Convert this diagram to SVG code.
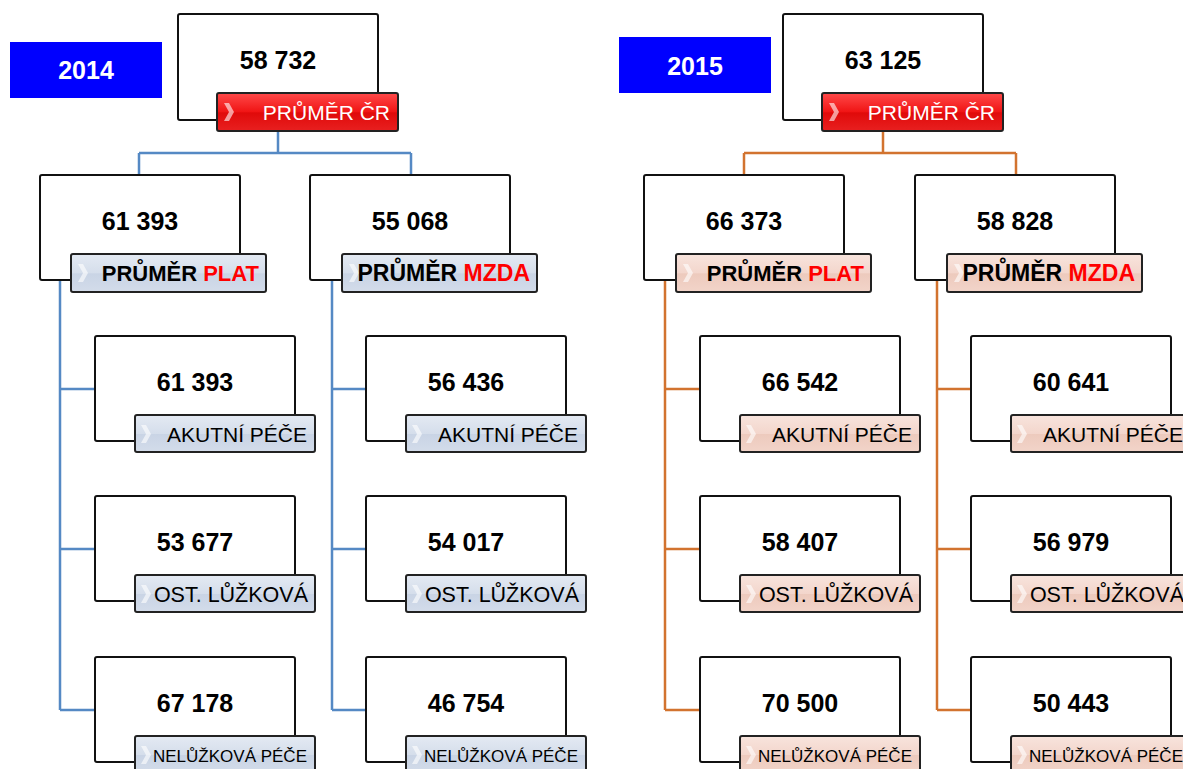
<svg xmlns="http://www.w3.org/2000/svg" width="1183" height="769" viewBox="0 0 1183 769">
<defs>
<linearGradient id="gRed" x1="0" y1="0" x2="0" y2="1">
<stop offset="0" stop-color="#ff4a4a"/><stop offset="0.5" stop-color="#f01414"/><stop offset="0.52" stop-color="#e00a0a"/><stop offset="1" stop-color="#e82020"/>
</linearGradient>
<linearGradient id="gBlue" x1="0" y1="0" x2="0" y2="1">
<stop offset="0" stop-color="#e4eaf3"/><stop offset="0.5" stop-color="#d5deeb"/><stop offset="0.52" stop-color="#c9d4e5"/><stop offset="1" stop-color="#d3dcea"/>
</linearGradient>
<linearGradient id="gPink" x1="0" y1="0" x2="0" y2="1">
<stop offset="0" stop-color="#f8e4dd"/><stop offset="0.5" stop-color="#f3d6cc"/><stop offset="0.52" stop-color="#edcabd"/><stop offset="1" stop-color="#f2d4c9"/>
</linearGradient>
</defs>
<style>
.box{fill:#fff;stroke:#111;stroke-width:2}
.lbl{stroke:#222;stroke-width:2}
.lr{fill:url(#gRed)}
.lb{fill:url(#gBlue)}
.lp{fill:url(#gPink)}
.chev{fill:#fff;opacity:0.6}
.num{font-family:"Liberation Sans",Arial,sans-serif;font-weight:bold;font-size:25px;fill:#000;text-anchor:middle}
.yr{font-family:"Liberation Sans",Arial,sans-serif;font-weight:bold;font-size:25px;fill:#fff;text-anchor:middle}
.lt{font-family:"Liberation Sans",Arial,sans-serif;font-size:21px;fill:#000;text-anchor:end}
.lto{font-family:"Liberation Sans",Arial,sans-serif;font-size:21.5px;fill:#000;text-anchor:end}
.lts{font-family:"Liberation Sans",Arial,sans-serif;font-size:17px;fill:#000;text-anchor:end}
.ltw{font-family:"Liberation Sans",Arial,sans-serif;font-size:21px;fill:#fff;text-anchor:end}
.ltb{font-family:"Liberation Sans",Arial,sans-serif;font-size:22px;font-weight:bold;fill:#000;text-anchor:end}
.ltm{font-family:"Liberation Sans",Arial,sans-serif;font-size:23px;font-weight:bold;fill:#000;text-anchor:end}
.red{fill:#ff0000}
.cb{fill:none;stroke:#5589c4;stroke-width:2.5}
.co{fill:none;stroke:#d2732f;stroke-width:2.5}
</style>
<g id="connectors">
<path class="cb" d="M278 131V153M139 153H411M139 153V175M411 153V175"/>
<path class="cb" d="M60 280V710M60 389H95M60 549H95M60 710H95"/>
<path class="cb" d="M332 280V710M332 389H366M332 549H366M332 710H366"/>
<path class="co" d="M883 131V153M744 153H1016M744 153V175M1016 153V175"/>
<path class="co" d="M665 280V710M665 389H700M665 549H700M665 710H700"/>
<path class="co" d="M937 280V710M937 389H971M937 549H971M937 710H971"/>
</g>
<g id="year2014"><rect x="10" y="42" width="152" height="56" fill="#0000ff"/><text class="yr" x="86" y="79">2014</text></g>
<g id="year2015"><rect x="619" y="37" width="152" height="56" fill="#0000ff"/><text class="yr" x="695" y="75">2015</text></g>

<g id="root2014"><rect class="box" x="178" y="14" width="200" height="106" rx="2"/><text class="num" x="278" y="69">58 732</text>
<rect class="lbl lr" x="217" y="93" width="181" height="38" rx="2"/><path class="chev" d="M224 103L229 103L234 112L229 121L224 121L229 112Z"/><text class="ltw" x="390" y="120">PRŮMĚR ČR</text></g>
<g id="plat2014"><rect class="box" x="40" y="175" width="200" height="105" rx="2"/><text class="num" x="140" y="230">61 393</text>
<rect class="lbl lb" x="71" y="254" width="195" height="38" rx="2"/><path class="chev" d="M78 264L83 264L88 273L83 282L78 282L83 273Z"/><text class="ltb" x="259" y="281">PRŮMĚR <tspan class="red">PLAT</tspan></text></g>
<g id="mzda2014"><rect class="box" x="310" y="175" width="200" height="105" rx="2"/><text class="num" x="410" y="230">55 068</text>
<rect class="lbl lb" x="342" y="254" width="195" height="38" rx="2"/><path class="chev" d="M349 264L354 264L359 273L354 282L349 282L354 273Z"/><text class="ltm" x="530" y="281">PRŮMĚR <tspan class="red">MZDA</tspan></text></g>

<g id="plat2014-akutni"><rect class="box" x="95" y="336" width="200" height="105" rx="2"/><text class="num" x="195" y="391">61 393</text>
<rect class="lbl lb" x="135" y="415" width="180" height="37" rx="2"/><path class="chev" d="M141 425L146 425L151 434L146 443L141 443L146 434Z"/><text class="lt" x="307" y="442">AKUTNÍ PÉČE</text></g>
<g id="plat2014-ost"><rect class="box" x="95" y="496" width="200" height="105" rx="2"/><text class="num" x="195" y="551">53 677</text>
<rect class="lbl lb" x="135" y="575" width="180" height="37" rx="2"/><path class="chev" d="M141 585L146 585L151 594L146 603L141 603L146 594Z"/><text class="lto" x="308" y="602">OST. LŮŽKOVÁ</text></g>
<g id="plat2014-nel"><rect class="box" x="95" y="657" width="200" height="105" rx="2"/><text class="num" x="195" y="712">67 178</text>
<rect class="lbl lb" x="135" y="736" width="180" height="37" rx="2"/><path class="chev" d="M141 746L146 746L151 755L146 764L141 764L146 755Z"/><text class="lts" x="307" y="762">NELŮŽKOVÁ PÉČE</text></g>

<g id="mzda2014-akutni"><rect class="box" x="366" y="336" width="200" height="105" rx="2"/><text class="num" x="466" y="391">56 436</text>
<rect class="lbl lb" x="406" y="415" width="180" height="37" rx="2"/><path class="chev" d="M412 425L417 425L422 434L417 443L412 443L417 434Z"/><text class="lt" x="578" y="442">AKUTNÍ PÉČE</text></g>
<g id="mzda2014-ost"><rect class="box" x="366" y="496" width="200" height="105" rx="2"/><text class="num" x="466" y="551">54 017</text>
<rect class="lbl lb" x="406" y="575" width="180" height="37" rx="2"/><path class="chev" d="M412 585L417 585L422 594L417 603L412 603L417 594Z"/><text class="lto" x="579" y="602">OST. LŮŽKOVÁ</text></g>
<g id="mzda2014-nel"><rect class="box" x="366" y="657" width="200" height="105" rx="2"/><text class="num" x="466" y="712">46 754</text>
<rect class="lbl lb" x="406" y="736" width="180" height="37" rx="2"/><path class="chev" d="M412 746L417 746L422 755L417 764L412 764L417 755Z"/><text class="lts" x="578" y="762">NELŮŽKOVÁ PÉČE</text></g>

<g id="root2015"><rect class="box" x="783" y="14" width="200" height="106" rx="2"/><text class="num" x="883" y="69">63 125</text>
<rect class="lbl lr" x="822" y="93" width="181" height="38" rx="2"/><path class="chev" d="M829 103L834 103L839 112L834 121L829 121L834 112Z"/><text class="ltw" x="995" y="120">PRŮMĚR ČR</text></g>
<g id="plat2015"><rect class="box" x="644" y="175" width="200" height="105" rx="2"/><text class="num" x="744" y="230">66 373</text>
<rect class="lbl lp" x="676" y="254" width="195" height="38" rx="2"/><path class="chev" d="M683 264L688 264L693 273L688 282L683 282L688 273Z"/><text class="ltb" x="864" y="281">PRŮMĚR <tspan class="red">PLAT</tspan></text></g>
<g id="mzda2015"><rect class="box" x="915" y="175" width="200" height="105" rx="2"/><text class="num" x="1015" y="230">58 828</text>
<rect class="lbl lp" x="947" y="254" width="195" height="38" rx="2"/><path class="chev" d="M954 264L959 264L964 273L959 282L954 282L959 273Z"/><text class="ltm" x="1135" y="281">PRŮMĚR <tspan class="red">MZDA</tspan></text></g>

<g id="plat2015-akutni"><rect class="box" x="700" y="336" width="200" height="105" rx="2"/><text class="num" x="800" y="391">66 542</text>
<rect class="lbl lp" x="740" y="415" width="180" height="37" rx="2"/><path class="chev" d="M746 425L751 425L756 434L751 443L746 443L751 434Z"/><text class="lt" x="912" y="442">AKUTNÍ PÉČE</text></g>
<g id="plat2015-ost"><rect class="box" x="700" y="496" width="200" height="105" rx="2"/><text class="num" x="800" y="551">58 407</text>
<rect class="lbl lp" x="740" y="575" width="180" height="37" rx="2"/><path class="chev" d="M746 585L751 585L756 594L751 603L746 603L751 594Z"/><text class="lto" x="913" y="602">OST. LŮŽKOVÁ</text></g>
<g id="plat2015-nel"><rect class="box" x="700" y="657" width="200" height="105" rx="2"/><text class="num" x="800" y="712">70 500</text>
<rect class="lbl lp" x="740" y="736" width="180" height="37" rx="2"/><path class="chev" d="M746 746L751 746L756 755L751 764L746 764L751 755Z"/><text class="lts" x="912" y="762">NELŮŽKOVÁ PÉČE</text></g>

<g id="mzda2015-akutni"><rect class="box" x="971" y="336" width="200" height="105" rx="2"/><text class="num" x="1071" y="391">60 641</text>
<rect class="lbl lp" x="1011" y="415" width="180" height="37" rx="2"/><path class="chev" d="M1017 425L1022 425L1027 434L1022 443L1017 443L1022 434Z"/><text class="lt" x="1183" y="442">AKUTNÍ PÉČE</text></g>
<g id="mzda2015-ost"><rect class="box" x="971" y="496" width="200" height="105" rx="2"/><text class="num" x="1071" y="551">56 979</text>
<rect class="lbl lp" x="1011" y="575" width="180" height="37" rx="2"/><path class="chev" d="M1017 585L1022 585L1027 594L1022 603L1017 603L1022 594Z"/><text class="lto" x="1184" y="602">OST. LŮŽKOVÁ</text></g>
<g id="mzda2015-nel"><rect class="box" x="971" y="657" width="200" height="105" rx="2"/><text class="num" x="1071" y="712">50 443</text>
<rect class="lbl lp" x="1011" y="736" width="180" height="37" rx="2"/><path class="chev" d="M1017 746L1022 746L1027 755L1022 764L1017 764L1022 755Z"/><text class="lts" x="1183" y="762">NELŮŽKOVÁ PÉČE</text></g>
</svg>
